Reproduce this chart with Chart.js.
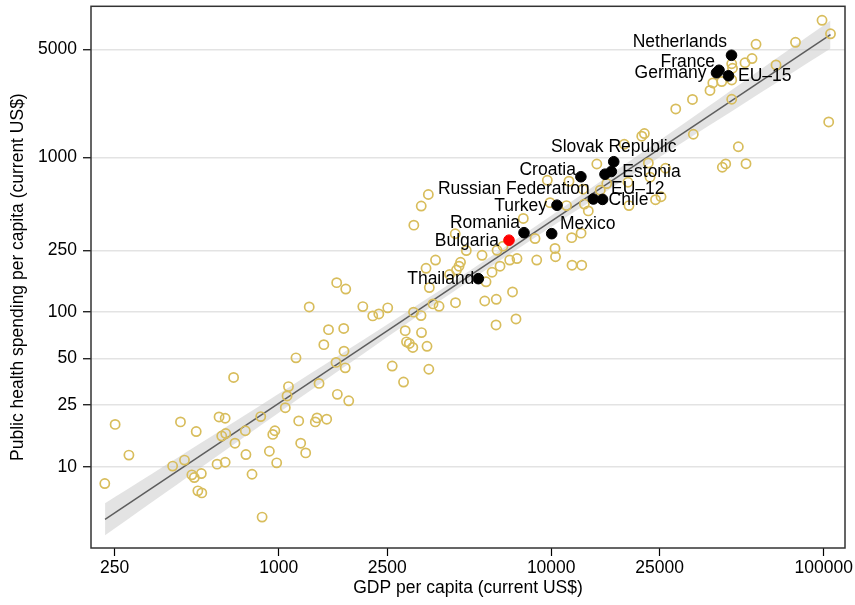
<!DOCTYPE html>
<html><head><meta charset="utf-8">
<script src="https://cdn.jsdelivr.net/npm/chart.js@4.4.0/dist/chart.umd.min.js"></script>
<style>html,body{margin:0;padding:0;background:#fff;}#wrap{width:855px;height:605px;}</style>
</head><body><div id="wrap"><canvas id="c" width="855" height="605"></canvas></div>
<script>
const xTicks = [250, 1000, 2500, 10000, 25000, 100000];
const yTicks = [10, 25, 50, 100, 250, 1000, 5000];

// all countries: GDP per capita, public health spending per capita (current US$)
const gdp = [230,251,282,408,436,451,498,480,490,520,505,522,594,636,604,636,618,639,683,691,754,758,798,869,859,924,951,968,983,1057,1086,1073,1157,1184,1204,1256,1294,1362,1382,1500,1406,1464,1523,1623,1641,1732,1736,1754,1807,1632,1762,2035,2213,2330,2512,2609,2871,2912,2944,3015,3105,3124,3328,3342,3501,3555,3472,3570,3540,3334,3132,3762,4647,4588,4492,4234,4880,5574,5765,6066,6488,7041,7488,8848,7211,6285,5702,4454,3683,3876,7425,6273,4443,6327,6654,7898,8722,10325,10370,11890,12870,11920,12940,9899,11380,13230,13680,9676,11620,13080,15140,14700,19130,19290,24140,25290,22720,26270,21970,21490,18530,23050,33220,28640,32990,38250,39180,42240,45960,45960,46270,45960,42450,43690,48600,51860,51420,54560,56440,66830,78790,98580,105900,104300,15990];
const health = [7.79,18.8,11.9,10.1,19.5,11.05,16.9,8.87,8.52,9.04,6.99,6.78,10.4,10.7,21.0,20.6,15.8,16.4,37.8,14.2,17.1,12.0,8.95,4.73,21.1,12.6,16.2,17.1,10.6,24.1,33.0,28.7,50.6,19.8,14.2,12.3,108,19.5,20.7,20.3,34.6,61.6,77.0,47.3,29.4,78.4,55.9,43.6,26.7,155,141,108.5,94.5,97.3,106.5,44.8,35.3,75.9,64.2,62.7,59.1,99.9,94.9,73.7,60.1,42.7,192,144,576,485,365,217,210,198,187,175,250,233,157,181,198,217,222,217,135,121,118,115,113,109,90.3,82.6,321,251,267,403,299,258,228,303,324,201,201,510,488,499,451,712,702,623,614,907,691,488,533,557,921,851,1427,1371,1217,745,1412,2058,2370,2709,3030,3094,3168,4032,3771,2377,864,908,1172,911,4092,4356,5389,3960,5551,7700,6300,1696,678];

// highlighted (labelled) countries
const hlNames = ['Netherlands','France','Germany','EU\u201315','Slovak Republic','Estonia','EU\u201312','Croatia','Russian Federation','Chile','Turkey','Mexico','Romania','Thailand'];
const hlGdp = [45880,41290,40420,44730,16960,16620,15750,12850,14270,15430,10500,10040,7945,5402];
const hlHealth = [4575,3660,3526,3372,938,811,779,750,538.5,535.3,491,321.4,326.2,164.5];

// focus country (red)
const focusNames = ['Bulgaria'];
const focusGdp = [7000];
const focusHealth = [291.7];

// fitted line and 95% CI band
const fitGdp = [230.5, 105900];
const fitHealth = [4.573, 6225];
const ciGdp = [230.5, 514.2, 1197, 2787, 5480, 10772, 23050, 49290, 105900];
const ciLow = [3.604, 9.781, 27.90, 78.7, 176.9, 387.1, 916.6, 2151, 5053];
const ciHigh = [5.801, 14.14, 36.26, 93.96, 205.3, 460.7, 1166, 2975, 7665];

// label placement (style): [align, dx, dy]
const labelPlace = {
  'Netherlands':['right',-4.5,-13.5],
  'France':['right',-4,-8.3],
  'Germany':['right',-10,0.2],
  'EU\u201315':['left',9.5,0.5],
  'Slovak Republic':['center',0,-15],
  'Estonia':['left',11,1],
  'EU\u201312':['left',6,15.3],
  'Croatia':['right',-5,-7],
  'Russian Federation':['right',-3.6,-9.5],
  'Chile':['left',6,1],
  'Turkey':['right',-10,0.7],
  'Mexico':['left',8.3,-10],
  'Romania':['right',-4,-10],
  'Thailand':['right',-4,0.2],
  'Bulgaria':['right',-10,0.7]
};

const FONT = "'Liberation Sans', Arial, Helvetica, sans-serif";
const FS = 17.5;
Chart.defaults.font.family = FONT;
Chart.defaults.color = '#000';

const pts = (xs, ys) => xs.map((x, i) => ({x: x, y: ys[i]}));

const labelPlugin = {
  id: 'labels',
  afterDatasetsDraw(chart) {
    const ctx = chart.ctx;
    const xs = chart.scales.x, ys = chart.scales.y;
    ctx.save();
    ctx.font = FS + 'px ' + FONT;
    ctx.fillStyle = '#000';
    ctx.textBaseline = 'middle';
    const draw = (names, gx, hy) => {
      names.forEach((n, i) => {
        const p = labelPlace[n];
        const px = xs.getPixelForValue(gx[i]);
        const py = ys.getPixelForValue(hy[i]);
        ctx.textAlign = p[0];
        ctx.fillText(n, px + p[1], py + p[2]);
      });
    };
    draw(hlNames, hlGdp, hlHealth);
    draw(focusNames, focusGdp, focusHealth);
    ctx.restore();
  }
};
const framePlugin = {
  id: 'frame',
  afterDraw(chart) {
    const a = chart.chartArea, ctx = chart.ctx;
    ctx.save();
    ctx.strokeStyle = '#333';
    ctx.lineWidth = 1.5;
    ctx.strokeRect(a.left, a.top, a.right - a.left, a.bottom - a.top);
    ctx.restore();
  }
};

new Chart(document.getElementById('c'), {
  type: 'scatter',
  data: {
    datasets: [
      {type:'line', data: pts(ciGdp, ciHigh), fill: '+1', backgroundColor:'rgba(200,200,200,0.5)', borderColor:'transparent', borderWidth:0, pointRadius:0, tension:0.3, order:6},
      {type:'line', data: pts(ciGdp, ciLow), fill:false, borderColor:'transparent', borderWidth:0, pointRadius:0, tension:0.3, order:7},
      {type:'line', data: pts(fitGdp, fitHealth), fill:false, borderColor:'#5e5e5e', borderWidth:1.5, pointRadius:0, order:5},
      {data: pts(gdp, health), pointStyle:'circle', pointRadius:4.6, pointBorderWidth:1.7, pointBorderColor:'#d8bd5c', pointBackgroundColor:'rgba(0,0,0,0)', order:3},
      {data: pts(hlGdp, hlHealth), pointStyle:'circle', pointRadius:5.3, pointBorderWidth:1, pointBorderColor:'#000', pointBackgroundColor:'#000', order:2},
      {data: pts(focusGdp, focusHealth), pointStyle:'circle', pointRadius:5.3, pointBorderWidth:1, pointBorderColor:'#ff0000', pointBackgroundColor:'#ff0000', order:1}
    ]
  },
  options: {
    responsive: false,
    animation: false,
    events: [],
    devicePixelRatio: 1,
    layout: {padding: {left: 0, right: 10, top: 6, bottom: 0}},
    plugins: {legend: {display:false}, tooltip: {enabled:false}},
    scales: {
      x: {
        type: 'logarithmic',
        min: 204.7, max: 119700,
        afterBuildTicks: s => { s.ticks = xTicks.map(v => ({value: v})); },
        afterFit: s => { s.height = 57; s.paddingLeft = 0; s.paddingRight = 0; },
        ticks: {callback: v => String(v), autoSkip:false, maxRotation:0, color:'#000', font:{size:FS}, padding:2},
        grid: {drawOnChartArea:false, drawTicks:true, tickLength:8, tickColor:'#000', tickWidth:1.2},
        border: {display:false},
        title: {display:true, text:'GDP per capita (current US$)', color:'#000', font:{size:FS}, padding:{top:0, bottom:6}}
      },
      y: {
        type: 'logarithmic',
        min: 2.985, max: 9484,
        afterBuildTicks: s => { s.ticks = yTicks.map(v => ({value: v})); },
        afterFit: s => { s.width = 91; s.paddingTop = 0; s.paddingBottom = 0; },
        ticks: {callback: v => String(v), autoSkip:false, color:'#000', font:{size:FS}, padding:6},
        grid: {color:'#e3e3e3', lineWidth:1.5, drawTicks:true, tickLength:8, tickColor:'#000', tickWidth:1.2},
        border: {display:false},
        title: {display:true, text:'Public health spending per capita (current US$)', color:'#000', font:{size:FS}, padding:{top:8, bottom:0}}
      }
    }
  },
  plugins: [labelPlugin, framePlugin]
});
</script></body></html>
